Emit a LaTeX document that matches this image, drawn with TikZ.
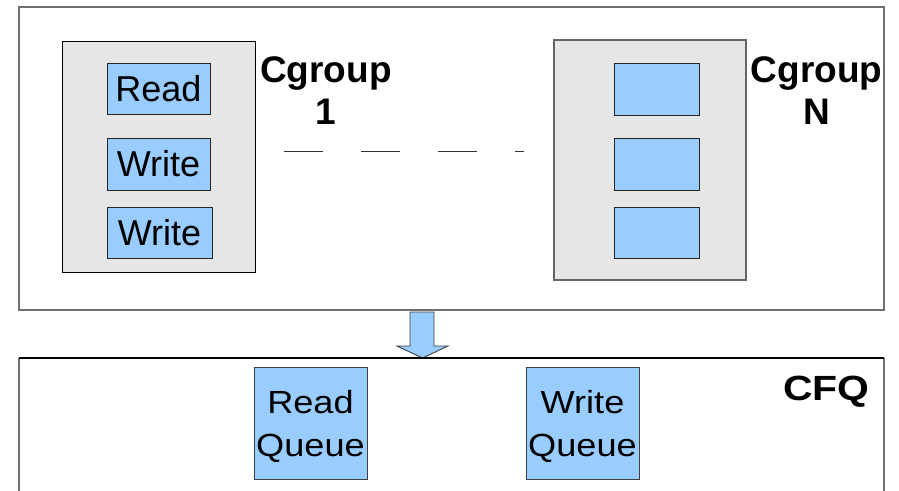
\documentclass[tikz,border=0pt]{standalone}
\usepackage{fontspec}
\usepackage{graphicx}
\setmainfont{Liberation Sans}
\definecolor{reqblue}{HTML}{99CCFF}
\definecolor{grpgray}{HTML}{E6E6E6}
\definecolor{edgegray}{HTML}{707070}
\begin{document}
\begin{tikzpicture}[x=1pt,y=-1pt,
  reqbox/.style={draw=black!85,line width=0.9pt,fill=reqblue,inner sep=0pt,
    font=\fontsize{36}{42}\selectfont},
  grpbox/.style={fill=grpgray,inner sep=0pt},
  grplabel/.style={font=\fontsize{37}{42}\selectfont\bfseries,align=center,
    inner sep=0pt,anchor=north},
  qbox/.style={draw=black!75,line width=0.9pt,fill=reqblue,inner sep=0pt,
    minimum width=113pt,minimum height=112pt},
  qtext/.style={align=center,inner sep=0pt,font=\fontsize{32}{43}\selectfont},
  frame/.style={draw=edgegray,line width=1.5pt}]
\useasboundingbox (0,0) rectangle (899,490);

% top frame holding the cgroups
\node[frame,minimum width=865pt,minimum height=303pt,inner sep=0pt] (top) at (451.5,158.5) {};

% cgroup 1
\node[grpbox,draw=black,line width=1pt,minimum width=193pt,minimum height=231pt] (g1) at (158.5,156.5) {};
\node[reqbox,minimum width=103pt,minimum height=51pt] (r1) at (158.5,88.5) {Read};
\node[reqbox,minimum width=103pt,minimum height=52pt] (w1) at (158.5,164) {Write};
\node[reqbox,minimum width=105pt,minimum height=51pt] (w2) at (159.5,232.5) {Write};
\node[grplabel] (l1) at (326,56) {Cgroup\\1};

% cgroup N
\node[grpbox,draw=black!60,line width=1.3pt,minimum width=192pt,minimum height=240pt] (gN) at (650,160) {};
\node[reqbox,minimum width=85pt,minimum height=52pt] (n1) at (656.5,89) {};
\node[reqbox,minimum width=85pt,minimum height=52pt] (n2) at (656.5,164) {};
\node[reqbox,minimum width=85pt,minimum height=51pt] (n3) at (656.5,232.5) {};
\node[grplabel] (lN) at (816.5,56) {Cgroup\\N};

% dashes between the cgroups
\coordinate (d1) at (284,151);
\coordinate (d2) at (524,151);
\draw[black!80,line width=0.9pt,dash pattern=on 38.5pt off 38.5pt] (d1) -- (d2);

% block arrow down to the scheduler
\draw[draw=black!75,line width=0.9pt,fill=reqblue]
  (410,312) -- (434,312) -- (434,346) -- (448,346) -- (422.5,358)
  -- (397,346) -- (410,346) -- cycle;

% CFQ frame, open at the bottom
\coordinate (c1) at (19,495);
\coordinate (c2) at (19,358);
\coordinate (c3) at (884,358);
\coordinate (c4) at (884,495);
\fill[white] (c1) rectangle (c3);
\draw[edgegray,line width=1.5pt] (c1) -- (c2);
\draw[edgegray,line width=1.5pt] (c3) -- (c4);
\draw[black,line width=1.2pt] (c2) -- (c3);

\node[qbox] (rq) at (310.5,423) {};
\node[qtext] (rqt) at (310.5,426) {\scalebox{1.13}[1]{Read}\\\scalebox{1.13}[1]{Queue}};
\node[qbox] (wq) at (582.5,423) {};
\node[qtext] (wqt) at (582.5,426) {\scalebox{1.13}[1]{Write}\\\scalebox{1.13}[1]{Queue}};
\node[font=\fontsize{35}{42}\selectfont\bfseries,inner sep=0pt,anchor=base] (cfq) at (826.5,400) {\scalebox{1.17}[1]{CFQ}};
\end{tikzpicture}
\end{document}
